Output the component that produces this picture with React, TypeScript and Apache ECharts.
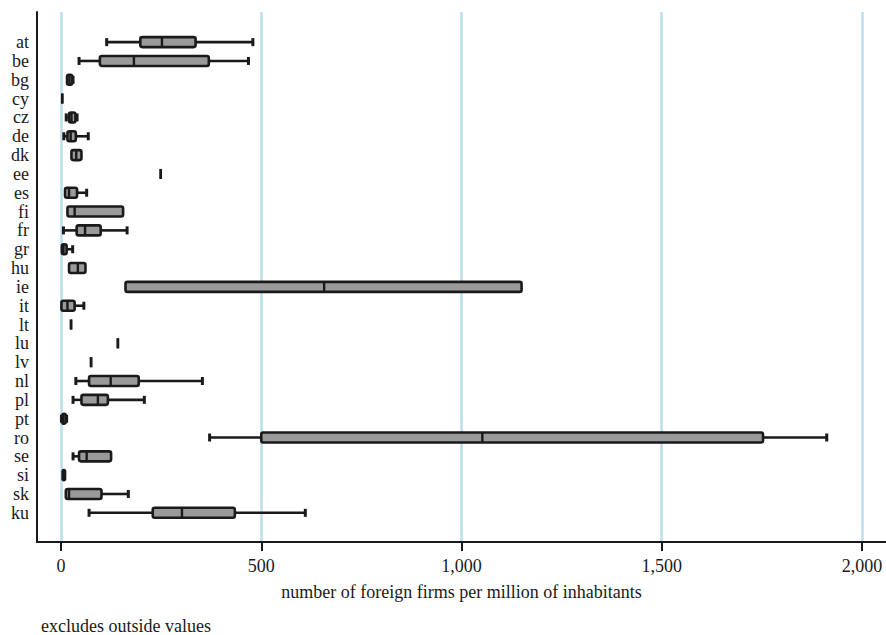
import React, { useEffect, useRef } from "react";
import * as echarts from "echarts";

const countries = ["at","be","bg","cy","cz","de","dk","ee","es","fi","fr","gr","hu","ie","it","lt","lu","lv","nl","pl","pt","ro","se","si","sk","ku"];
const whiskerLow = [114, 45, 14, 3, 13, 7, 26, 249, 9, 15, 6, 1, 20, 161, 0, 25, 142, 75, 37, 30, 1, 371, 30, 3, 12, 70];
const q1Values = [198, 97, 15, 3, 20, 16, 26, 249, 10, 16, 39, 2, 20, 161, 1, 25, 142, 75, 70, 51, 3, 500, 45, 4, 12, 229];
const medianValues = [252, 182, 21, 3, 26, 24, 38, 249, 20, 34, 60, 6, 42, 657, 16, 25, 142, 75, 124, 92, 6, 1052, 64, 6, 20, 302];
const q3Values = [336, 369, 28, 3, 36, 37, 51, 249, 40, 155, 99, 14, 61, 1150, 34, 25, 142, 75, 194, 117, 12, 1753, 125, 10, 101, 434];
const whiskerHigh = [479, 468, 30, 3, 40, 68, 51, 249, 64, 156, 165, 29, 61, 1150, 57, 25, 142, 75, 353, 208, 14, 1912, 125, 11, 168, 610];
const xTicks = [0, 500, 1000, 1500, 2000];

const FONT = "'Liberation Serif', 'Times New Roman', serif";
const INK = "#1a1a1a";

export default function App() {
  const ref = useRef<HTMLDivElement>(null);
  useEffect(() => {
    if (!ref.current) return;
    const chart = echarts.init(ref.current, null, { renderer: "svg" });
    const data = countries.map((_, i) => [i, whiskerLow[i], q1Values[i], medianValues[i], q3Values[i], whiskerHigh[i]]);
    const yIdx = countries.map((_, i) => i);
    const option: any = {
      animation: false,
      backgroundColor: "#ffffff",
      grid: { left: 37, right: 0, top: 12, bottom: 93, containLabel: false },
      xAxis: {
        type: "value",
        min: -60,
        max: 2060,
        name: "number of foreign firms per million of inhabitants",
        nameLocation: "middle",
        nameGap: 41,
        nameTextStyle: { fontFamily: FONT, fontSize: 18, color: INK },
        axisLine: { show: true, onZero: false, lineStyle: { color: INK, width: 2 } },
        axisTick: { show: true, customValues: xTicks, length: 9, lineStyle: { color: INK, width: 2 } },
        axisLabel: {
          customValues: xTicks,
          margin: 15,
          fontFamily: FONT,
          fontSize: 18,
          color: INK,
          formatter: (v: number) => v.toLocaleString("en-US"),
        },
        splitLine: { show: true, lineStyle: { color: "#bcdfee", width: 2.5 } },
      },
      yAxis: {
        type: "value",
        inverse: true,
        min: -1.6,
        max: 26.55,
        axisLine: { show: true, onZero: false, lineStyle: { color: INK, width: 2 } },
        axisTick: { show: false },
        splitLine: { show: false },
        axisLabel: {
          customValues: yIdx,
          margin: 8,
          fontFamily: FONT,
          fontSize: 18,
          color: INK,
          formatter: (v: number) => countries[Math.round(v)] ?? "",
        },
      },
      graphic: [
        {
          type: "text",
          left: 41,
          top: 617,
          style: { text: "excludes outside values", fontFamily: FONT, fontSize: 18, fill: INK },
        },
      ],
      series: [
        {
          type: "custom",
          encode: { x: [1, 2, 3, 4, 5], y: 0 },
          data,
          renderItem: (params: any, api: any) => {
            const idx = api.value(0);
            const lo = api.coord([api.value(1), idx]);
            const q1 = api.coord([api.value(2), idx]);
            const md = api.coord([api.value(3), idx]);
            const q3 = api.coord([api.value(4), idx]);
            const hi = api.coord([api.value(5), idx]);
            const y = md[1];
            const bh = 10;
            const ch = 8;
            const lineStyle = { stroke: INK, lineWidth: 2.6 };
            const capStyle = { stroke: INK, lineWidth: 3 };
            const children: any[] = [];
            if (q1[0] - lo[0] > 0.5) {
              children.push({ type: "line", shape: { x1: lo[0], y1: y, x2: q1[0], y2: y }, style: lineStyle });
              children.push({ type: "line", shape: { x1: lo[0], y1: y - ch / 2, x2: lo[0], y2: y + ch / 2 }, style: capStyle });
            }
            if (hi[0] - q3[0] > 0.5) {
              children.push({ type: "line", shape: { x1: q3[0], y1: y, x2: hi[0], y2: y }, style: lineStyle });
              children.push({ type: "line", shape: { x1: hi[0], y1: y - ch / 2, x2: hi[0], y2: y + ch / 2 }, style: capStyle });
            }
            children.push({
              type: "rect",
              shape: { x: q1[0], y: y - bh / 2, width: q3[0] - q1[0], height: bh, r: 2 },
              style: { fill: "#9a9a9a", stroke: INK, lineWidth: 2.6 },
            });
            children.push({
              type: "line",
              shape: { x1: md[0], y1: y - bh / 2, x2: md[0], y2: y + bh / 2 },
              style: { stroke: INK, lineWidth: 2.4 },
            });
            return { type: "group", children };
          },
        },
      ],
    };
    chart.setOption(option);
    return () => chart.dispose();
  }, []);
  return (
    <div
      ref={ref}
      style={{ position: "fixed", left: 0, top: 0, width: 886, height: 635, background: "#fff" }}
    />
  );
}
